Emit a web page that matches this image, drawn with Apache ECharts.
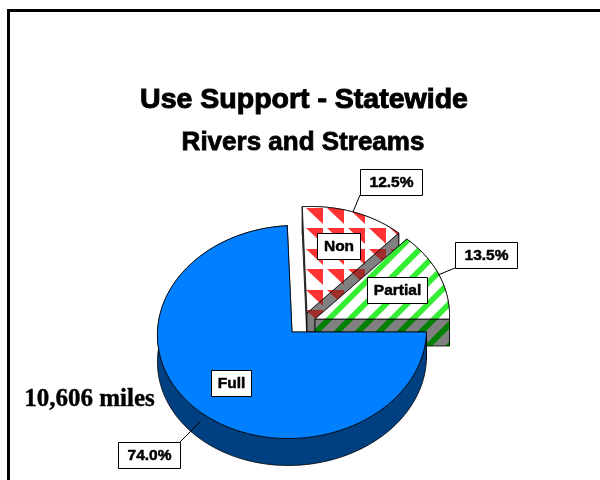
<!DOCTYPE html>
<html>
<head>
<meta charset="utf-8">
<style>html,body{margin:0;padding:0;background:#fff}#chart{width:600px;height:480px}</style>
<script src="https://cdn.jsdelivr.net/npm/echarts@6/dist/echarts.min.js"></script>
</head>
<body>
<div id="chart"></div>
<script>
// Stream-mile use support shares, clockwise from the top of the pie
var categories = ['Non', 'Partial', 'Full'];
var shares = [12.5, 13.5, 74.0];
var chartTitle = 'Use Support - Statewide';
var chartSubtitle = 'Rivers and Streams';
var mileageNote = '10,606 miles';

var SANS = '"Liberation Sans", Arial, sans-serif';
var SERIF = '"Liberation Serif", "Times New Roman", serif';

// Tilted-disc projection of the pie
var RX = 134.5, RY = 106.5, DEPTH = 27, SHEAR = 0.035;
var END_ANGLE_OF_PARTIAL = 90;

// Per-slice drawing settings, in category order
var sliceStyles = [
  { apex: [307, 313], top: tile('triangles', '#ffffff', '#ff3333'), wall: tile('triangles', '#808080', '#a02c2c') },
  { apex: [315, 319], top: tile('stripes', '#ffffff', '#33ee33'), wall: tile('stripes', '#808080', '#008000') },
  { apex: [292, 332], top: '#0080ff', wall: '#004080' }
];

// Name box and percentage box per slice: [x, y, w, h]; leader runs from box to pie
var labelBoxes = [
  { name: [317, 233, 43, 26], pct: [360, 169, 62, 26], leader: [[360, 195], [353, 212]] },
  { name: [367, 277, 60, 26], pct: [455, 242, 62, 26], leader: [[455, 268], [438, 275]] },
  { name: [211, 370, 40, 26], pct: [118, 442, 62, 26], leader: [[180, 442], [200, 422]] }
];

// Builds a repeating hatch tile aligned to page coordinates
function tile(kind, bg, fg) {
  var c = document.createElement('canvas');
  var w = 21, h = kind === 'triangles' ? 41 : 21;
  c.width = w; c.height = h;
  var g = c.getContext('2d');
  g.fillStyle = bg;
  g.fillRect(0, 0, w, h);
  g.fillStyle = fg;
  for (var ox = -w; ox <= w; ox += w) {
    for (var oy = -h; oy <= h; oy += h) {
      if (kind === 'triangles') {
        [3, 23].forEach(function (rowTop) {
          g.beginPath();
          g.moveTo(8 - 17 + ox, rowTop + oy);
          g.lineTo(8 + ox, rowTop + oy);
          g.lineTo(8 + ox, rowTop + 16 + oy);
          g.closePath();
          g.fill();
        });
      } else {
        // band of constant x + y, rising to the right
        var k = 14;
        g.beginPath();
        g.moveTo(k + ox, oy);
        g.lineTo(k + 8 + ox, oy);
        g.lineTo(k + 8 - 21 + ox, oy + 21);
        g.lineTo(k - 21 + ox, oy + 21);
        g.closePath();
        g.fill();
      }
    }
  }
  return { type: 'pattern', image: c, repeat: 'repeat' };
}

function project(apex, deg) {
  var a = deg * Math.PI / 180;
  var dy = -RY * Math.cos(a);
  return [apex[0] + RX * Math.sin(a) - SHEAR * dy, apex[1] + dy];
}

function arcPoints(apex, from, to) {
  var pts = [], n = Math.max(8, Math.ceil((to - from) / 1.5));
  for (var i = 0; i <= n; i++) pts.push(project(apex, from + (to - from) * i / n));
  return pts;
}

function drop(p) { return [p[0], p[1] + DEPTH]; }

function poly(points, fill) {
  return {
    type: 'polygon',
    shape: { points: points },
    style: { fill: fill, stroke: '#000', lineWidth: 0.8 }
  };
}

function box(rect, text) {
  return {
    type: 'rect',
    z2: 20,
    shape: { x: rect[0] + 0.5, y: rect[1] + 0.5, width: rect[2], height: rect[3] },
    style: { fill: '#fff', stroke: '#000', lineWidth: 1 },
    textContent: {
      style: {
        text: text, fontFamily: SANS, fontWeight: 'bold', fontSize: 15.5, fill: '#000',
        stroke: '#000', lineWidth: 0.5
      },
      z2: 21
    },
    textConfig: { position: 'inside' }
  };
}

// Slice angles accumulate from the shares so the Partial slice ends at 3 o'clock
var firstAngle = END_ANGLE_OF_PARTIAL - (shares[0] + shares[1]) * 3.6;

function renderSlice(params, api) {
  var i = params.dataIndex;
  var before = 0;
  for (var j = 0; j < i; j++) before += shares[j];
  var from = firstAngle + before * 3.6;
  var to = from + api.value(0) * 3.6;
  var s = sliceStyles[i], b = labelBoxes[i];
  var arc = arcPoints(s.apex, from, to);
  var first = arc[0], last = arc[arc.length - 1];
  var apexLow = drop(s.apex);
  var children = [
    poly([s.apex, first, drop(first), apexLow], s.wall),
    poly(arc.concat(arc.map(drop).reverse()), s.wall),
    poly([s.apex, last, drop(last), apexLow], s.wall),
    poly([s.apex].concat(arc), s.top),
    {
      type: 'polyline',
      shape: { points: b.leader },
      style: { fill: null, stroke: '#000', lineWidth: 1 }
    },
    box(b.name, categories[i]),
    box(b.pct, api.value(0).toFixed(1) + '%')
  ];
  return { type: 'group', children: children };
}

var chart = echarts.init(document.getElementById('chart'), null, { renderer: 'canvas' });
chart.setOption({
  animation: false,
  backgroundColor: '#fff',
  title: [
    {
      text: chartTitle, left: 299, top: 81, textAlign: 'center',
      textStyle: { fontFamily: SANS, fontWeight: 'bold', fontSize: 28.5, color: '#000', textBorderColor: '#000', textBorderWidth: 1 }
    },
    {
      text: chartSubtitle, left: 298, top: 125, textAlign: 'center',
      textStyle: { fontFamily: SANS, fontWeight: 'bold', fontSize: 26, color: '#000', textBorderColor: '#000', textBorderWidth: 0.8 }
    }
  ],
  graphic: [
    { type: 'rect', shape: { x: 7, y: 9, width: 593, height: 3 }, style: { fill: '#000' } },
    { type: 'rect', shape: { x: 7, y: 9, width: 3, height: 471 }, style: { fill: '#000' } },
    {
      type: 'text', left: 24, top: 387,
      style: { text: mileageNote, fontFamily: SERIF, fontWeight: 'bold', fontSize: 25, fill: '#000', stroke: '#000', lineWidth: 0.4 }
    }
  ],
  series: [{
    type: 'custom',
    coordinateSystem: 'none',
    silent: true,
    renderItem: renderSlice,
    data: shares.map(function (v, i) { return { name: categories[i], value: [v] }; })
  }]
});
</script>
</body>
</html>
